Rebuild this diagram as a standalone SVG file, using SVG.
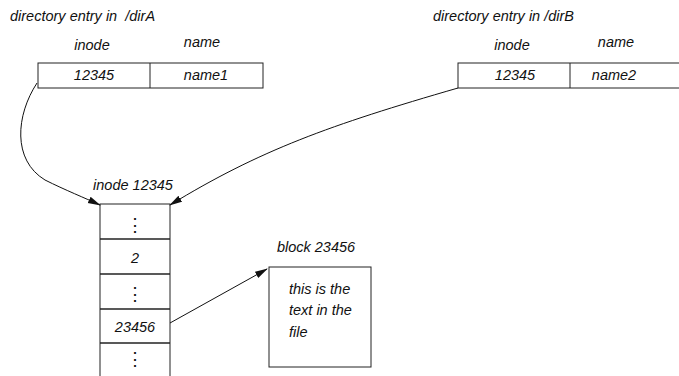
<svg xmlns="http://www.w3.org/2000/svg" width="679" height="376" viewBox="0 0 679 376">
<style>
text{font-family:"Liberation Sans",Arial,sans-serif;font-style:italic;font-size:14.5px;fill:#111}
.m{text-anchor:middle}
.d{font-size:18px;font-style:normal}
.box{fill:#fff;stroke:#222;stroke-width:1}
.conn{fill:none;stroke:#111;stroke-width:1}
</style>
<defs>
<marker id="ah" markerWidth="13" markerHeight="8" refX="12" refY="4" orient="auto" markerUnits="userSpaceOnUse">
<path d="M0,0.5 L13,4 L0,7.5 Z" fill="#111"/>
</marker>
</defs>
<g id="dirA">
<text x="10" y="21" xml:space="preserve">directory entry in  /dirA</text>
<text x="92" y="50" class="m">inode</text>
<text x="202" y="47" class="m">name</text>
<rect class="box" x="38" y="63" width="225" height="25"/>
<line class="box" x1="150" y1="63" x2="150" y2="88"/>
<text x="94" y="80" class="m">12345</text>
<text x="206" y="80" class="m">name1</text>
</g>
<g id="dirB">
<text x="433" y="21">directory entry in /dirB</text>
<text x="512" y="50" class="m">inode</text>
<text x="616" y="47" class="m">name</text>
<rect class="box" x="458" y="63" width="230" height="25"/>
<line class="box" x1="570" y1="63" x2="570" y2="88"/>
<text x="515" y="80" class="m">12345</text>
<text x="614" y="80" class="m">name2</text>
</g>
<g id="inode">
<text x="133" y="190" class="m">inode 12345</text>
<rect class="box" x="100" y="204" width="70" height="180" stroke-width="1.2"/>
<g stroke="#222" stroke-width="1.4">
<line x1="100" y1="239" x2="170" y2="239"/>
<line x1="100" y1="274" x2="170" y2="274"/>
<line x1="100" y1="309" x2="170" y2="309"/>
<line x1="100" y1="343" x2="170" y2="343"/>
</g>
<text x="135" y="231" class="m d">⋮</text>
<text x="135" y="263" class="m">2</text>
<text x="135" y="300" class="m d">⋮</text>
<text x="135" y="365" class="m d">⋮</text>
<text x="135" y="332" class="m">23456</text>
</g>
<g id="block">
<text x="316" y="252" class="m">block 23456</text>
<rect class="box" x="269" y="267" width="102" height="100"/>
<text x="289" y="294">this is the</text>
<text x="289" y="315">text in the</text>
<text x="289" y="337">file</text>
</g>
<g id="connectors">
<path class="conn" d="M37,83 C16,115 12,160 45,180 C65,190 85,198 100,205" marker-end="url(#ah)"/>
<path class="conn" d="M458,88 C330,125 260,150 170,205" marker-end="url(#ah)"/>
<path class="conn" d="M170,323 L267,269" marker-end="url(#ah)"/>
</g>
</svg>
